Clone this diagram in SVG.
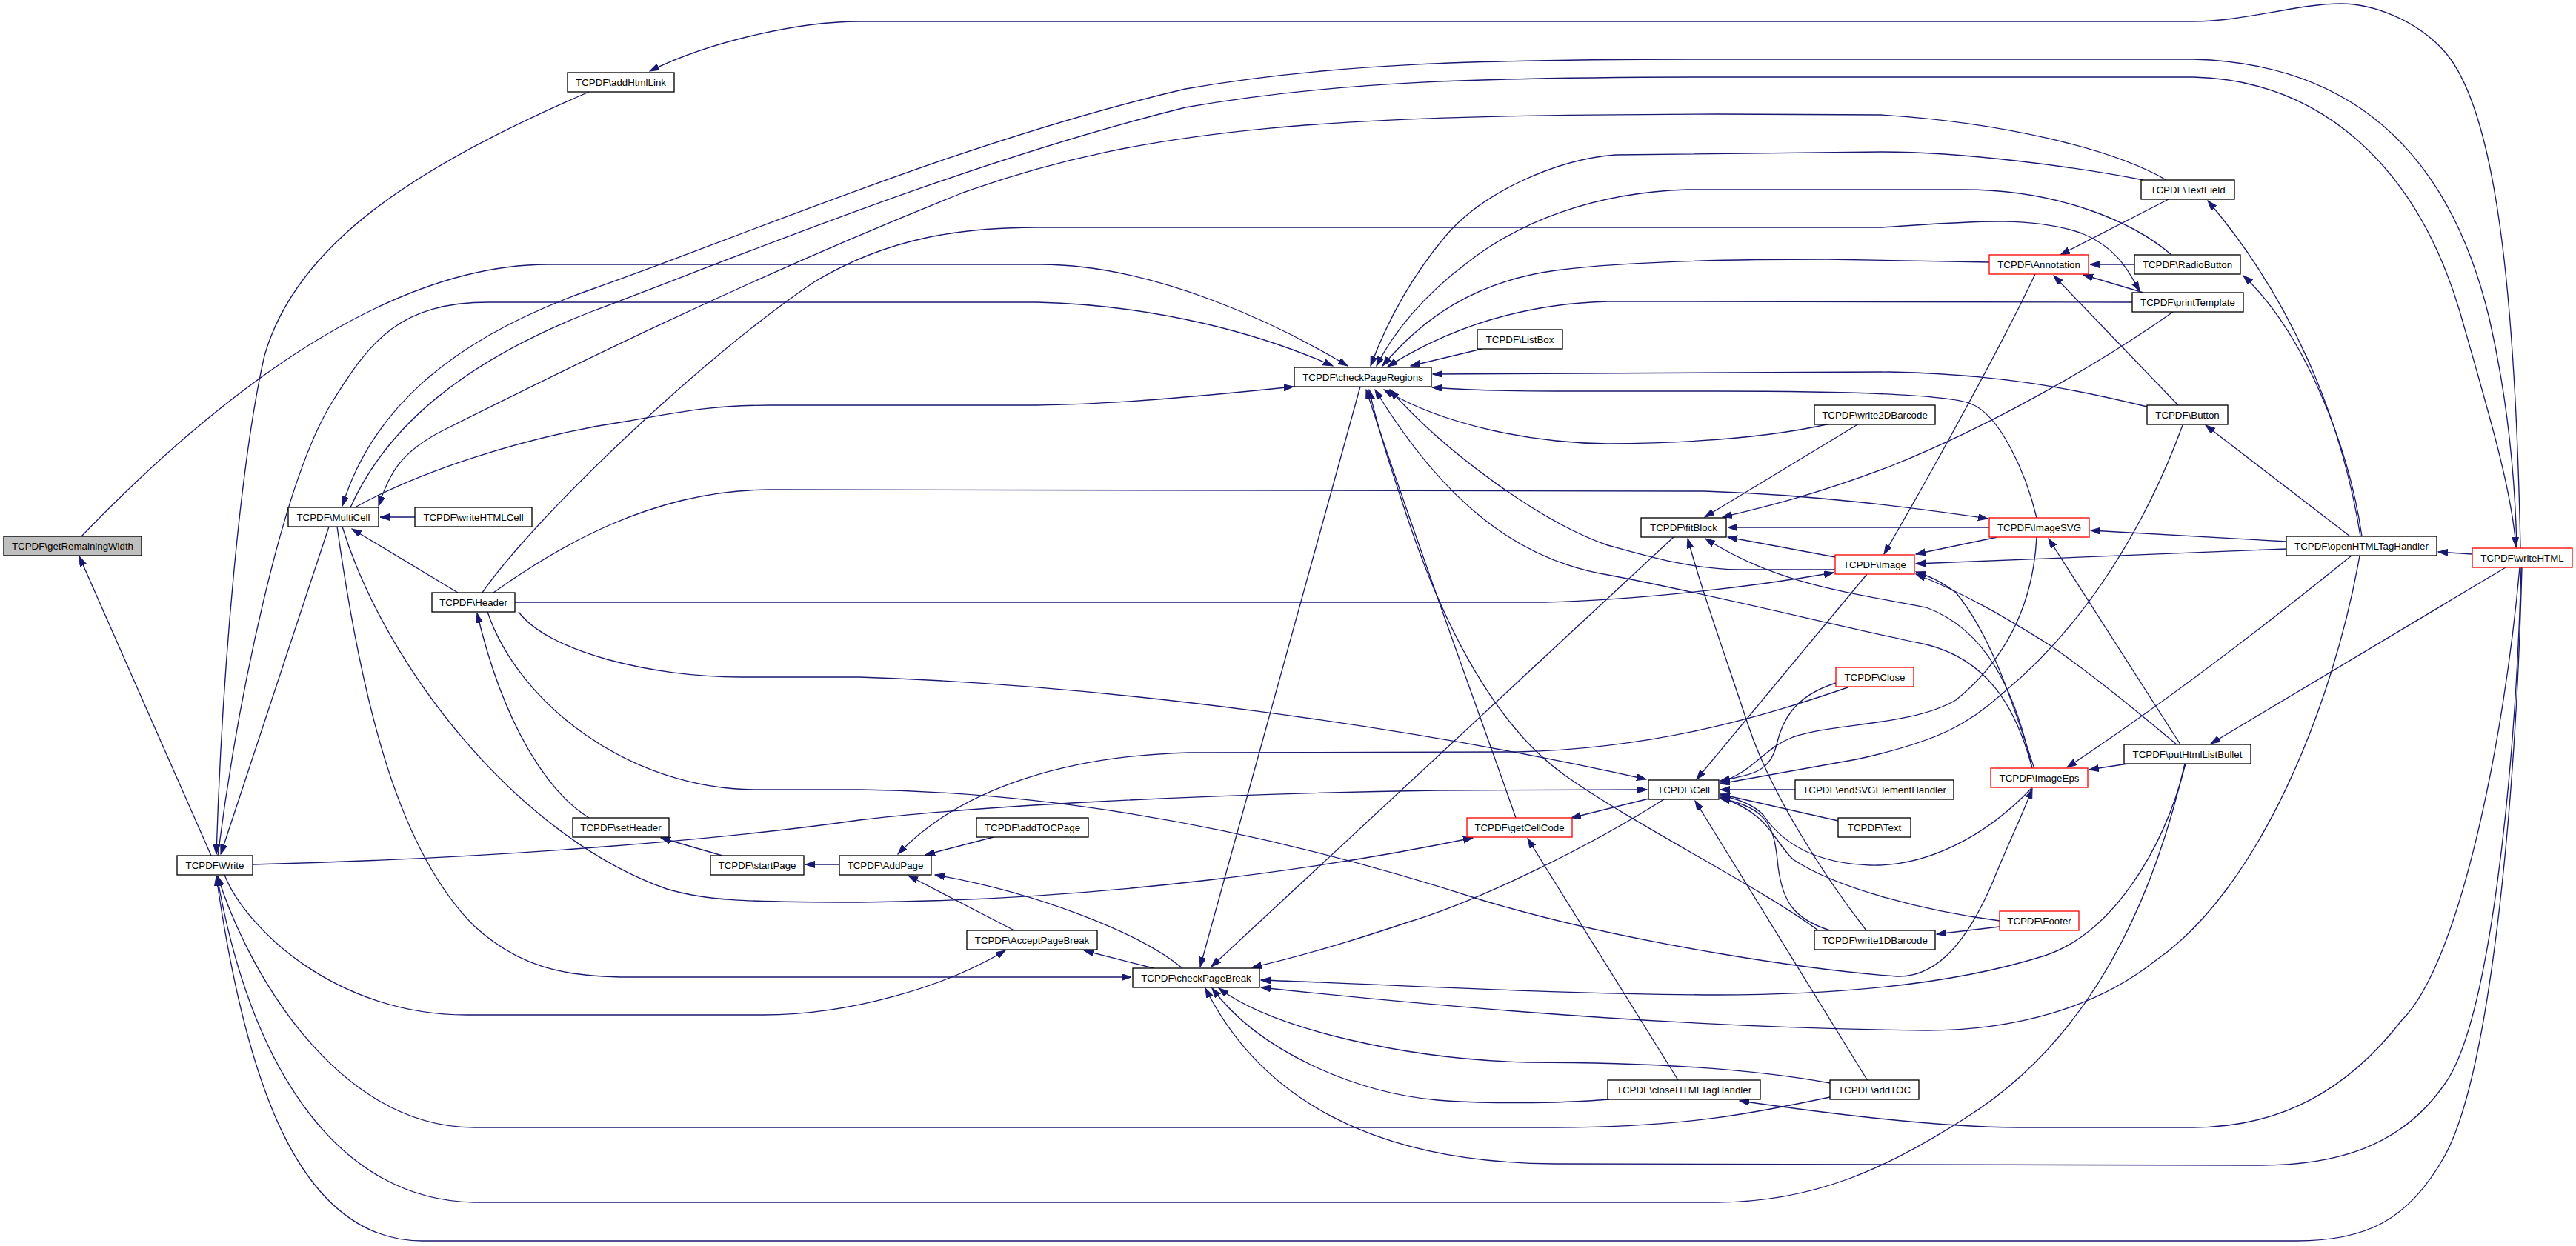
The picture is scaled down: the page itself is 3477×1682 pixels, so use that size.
<svg xmlns="http://www.w3.org/2000/svg" width="3477" height="1682" viewBox="0 0 3477 1682">
<defs>
<marker id="a" markerUnits="userSpaceOnUse" markerWidth="14" markerHeight="10" refX="13" refY="4.5" orient="auto">
<path d="M0,0 L13,4.5 L0,9 Z" fill="#191970" stroke="#191970" stroke-width="1"/>
</marker>
<style>
.e path{fill:none;stroke:#191970;stroke-width:1.33;marker-end:url(#a)}
.n rect{fill:#fff;stroke:#000;stroke-width:1.33}
.r rect{stroke:#f00}
.g rect{fill:#bfbfbf}
text{font-family:"Liberation Sans",Arial,sans-serif;font-size:13.3px;text-anchor:middle;fill:#000}
</style>
</defs>
<rect width="3477" height="1682" fill="#fff"/>
<g id="edges" class="e">
<path d="M285,1155 L107,751"/>
<path d="M110,724 C220,610 480,357 740,357 L1404,357 C1560,357 1730,440 1819,494"/>
<path d="M294,1155 C320,950 380,650 450,540 C500,460 540,408 660,408 L1400,408 C1560,412 1700,450 1799,494"/>
<path d="M795,124 C560,225 400,330 357,480 C325,620 300,900 292,1153"/>
<path d="M444,711 L298,1153"/>
<path d="M560,698 L513,698"/>
<path d="M618,800 L475,714"/>
<path d="M479,685 C560,640 700,590 850,568 C920,556 960,547 1040,547 L1400,547 C1500,546 1620,535 1746,522"/>
<path d="M455,711 C490,960 540,1150 640,1250 C700,1305 760,1319 850,1319 L1527,1319"/>
<path d="M462,711 C520,900 700,1130 900,1200 C950,1215 1000,1218 1160,1218 C1500,1215 1800,1170 1988,1131"/>
<path d="M658,826 C700,950 850,1066 1021,1066 L1160,1066 C1500,1070 1800,1150 2000,1215 C2200,1275 2450,1310 2560,1318 C2620,1320 2660,1260 2690,1190 C2710,1140 2730,1100 2743,1065"/>
<path d="M700,826 C740,880 880,914 1000,914 L1160,914 C1500,925 1900,980 2222,1052"/>
<path d="M695,813 L2085,813 C2200,810 2350,795 2475,773"/>
<path d="M666,800 C750,740 880,661 1040,661 L2300,663 C2450,668 2580,685 2683,700"/>
<path d="M651,800 C720,700 950,480 1100,380 C1200,320 1300,307 1400,307 L2540,307 C2650,300 2740,290 2810,315 C2860,335 2875,370 2888,393"/>
<path d="M795,1104 C740,1070 680,980 644,828"/>
<path d="M975,1155 L892,1131"/>
<path d="M1133,1167 L1087,1167"/>
<path d="M1341,1130 L1249,1154"/>
<path d="M2494,928 C2400,960 2250,1010 2048,1015 L1604,1016 C1450,1020 1300,1060 1212,1153"/>
<path d="M1369,1256 L1226,1182"/>
<path d="M1596,1307 C1540,1260 1400,1205 1262,1181"/>
<path d="M1557,1307 L1463,1283"/>
<path d="M303,1181 C330,1250 450,1370 630,1370 L1030,1370 C1150,1370 1280,1330 1357,1283"/>
<path d="M341,1167 C700,1158 1000,1130 1160,1107 C1300,1090 1600,1072 1940,1067 L2223,1066"/>
<path d="M2470,1481 C2380,1500 2280,1522 2100,1522 L640,1522 C450,1522 330,1300 294,1183"/>
<path d="M2949,1031 C2910,1200 2830,1400 2650,1511 C2550,1575 2450,1623 2317,1623 L640,1623 C460,1620 340,1450 293,1183"/>
<path d="M3404,766 C3395,1100 3360,1450 3300,1560 C3250,1650 3190,1675 3100,1675 L570,1675 C400,1675 330,1450 292,1183"/>
<path d="M3403,766 C3395,1050 3360,1380 3300,1463 C3240,1550 3150,1573 3050,1573 L2100,1571 C1850,1570 1700,1480 1627,1334"/>
<path d="M3401,766 C3380,1000 3320,1300 3242,1377 C3170,1470 3080,1522 2960,1522 L2724,1522 C2620,1522 2480,1505 2348,1486"/>
<path d="M3185,750 C3150,950 3050,1200 2909,1297 C2830,1360 2720,1391 2600,1391 C2300,1388 2000,1365 1702,1333"/>
<path d="M2950,1031 C2920,1150 2850,1260 2760,1290 C2650,1325 2500,1343 2317,1343 C2100,1342 1900,1330 1702,1323"/>
<path d="M1836,522 L1620,1305"/>
<path d="M2259,725 L1635,1305"/>
<path d="M2246,1079 C2150,1140 2000,1215 1900,1245 C1820,1272 1760,1290 1690,1306"/>
<path d="M2172,1484 C2100,1490 2000,1490 1940,1485 C1830,1475 1700,1420 1636,1334"/>
<path d="M2470,1462 C2350,1440 2200,1434 2062,1434 C1900,1430 1720,1390 1645,1334"/>
<path d="M2893,243 C2800,225 2650,205 2540,205 L2181,209 C2100,215 2000,260 1950,320 C1900,380 1870,440 1850,494"/>
<path d="M2931,344 C2880,300 2780,256 2650,256 L2277,256 C2150,260 2050,300 1980,355 C1920,400 1880,450 1858,494"/>
<path d="M2685,354 L2465,350 C2350,350 2200,352 2100,365 C1990,380 1920,430 1866,494"/>
<path d="M2878,408 L2170,407 C2060,410 1960,440 1873,495"/>
<path d="M2000,471 L1904,494"/>
<path d="M2898,549 C2800,525 2700,505 2550,502 L1934,505"/>
<path d="M2749,699 C2735,640 2700,560 2660,545 C2630,533 2500,528 2317,528 L2100,528 C2020,528 1960,525 1933,523"/>
<path d="M2470,572 C2400,588 2300,598 2170,599 C2070,598 1950,575 1868,526"/>
<path d="M2477,769 L2348,769 C2280,768 2220,750 2170,736 C2080,705 1950,610 1876,526"/>
<path d="M2743,1037 C2720,950 2680,890 2600,870 C2500,850 2300,800 2170,776 C2050,756 1950,680 1856,526"/>
<path d="M2046,1104 C2010,1000 1900,700 1844,526"/>
<path d="M2454,1256 C2380,1200 2200,1110 2110,1045 C2020,980 1950,850 1900,700 C1880,640 1860,580 1848,526"/>
<path d="M2478,922 C2420,940 2405,975 2398,1005 C2390,1040 2370,1045 2322,1054"/>
<path d="M2749,725 C2745,800 2720,880 2640,945 C2580,980 2480,975 2420,995 C2380,1010 2370,1040 2322,1056"/>
<path d="M2946,574 C2900,700 2820,840 2703,936 C2660,975 2620,1000 2506,1025 L2322,1058"/>
<path d="M2423,1066 L2322,1066"/>
<path d="M2481,1108 L2322,1072"/>
<path d="M2743,1063 C2680,1130 2600,1170 2524,1168 C2440,1165 2400,1130 2380,1100 C2365,1085 2345,1078 2322,1074"/>
<path d="M2699,1243 C2600,1230 2480,1200 2420,1160 C2390,1130 2390,1100 2322,1076"/>
<path d="M2470,1256 C2420,1240 2406,1216 2400,1170 C2395,1120 2390,1090 2322,1078"/>
<path d="M2521,1459 L2288,1081"/>
<path d="M2520,775 L2290,1052"/>
<path d="M2226,1078 L2121,1104"/>
<path d="M2265,1458 L2062,1132"/>
<path d="M2509,572 L2301,698"/>
<path d="M2933,421 C2850,480 2700,570 2550,630 C2450,668 2380,685 2325,698"/>
<path d="M2685,712 L2332,712"/>
<path d="M2477,752 L2332,725"/>
<path d="M2743,1038 C2720,930 2680,850 2600,820 C2500,800 2400,790 2302,727"/>
<path d="M2519,1256 C2460,1180 2390,1070 2360,980 C2320,860 2295,790 2278,727"/>
<path d="M2747,370 C2700,470 2600,650 2543,748"/>
<path d="M2696,725 L2586,748"/>
<path d="M3086,741 L2586,761"/>
<path d="M2746,1038 C2720,960 2690,860 2640,800 C2620,785 2605,778 2586,772"/>
<path d="M2938,1005 C2890,965 2830,915 2770,873 C2710,835 2650,800 2586,775"/>
<path d="M2881,357 L2821,357"/>
<path d="M2927,269 L2781,344"/>
<path d="M2940,547 L2772,372"/>
<path d="M2893,395 L2812,371"/>
<path d="M3086,731 L2822,716"/>
<path d="M2943,1005 L2765,727"/>
<path d="M3174,750 C3100,810 2950,930 2790,1036"/>
<path d="M2872,1031 L2820,1039"/>
<path d="M2699,1251 L2614,1261"/>
<path d="M3186,724 C3160,560 3090,400 2980,271"/>
<path d="M3188,724 C3170,600 3110,450 3028,372"/>
<path d="M3172,724 L2977,574"/>
<path d="M3337,748 L3291,745"/>
<path d="M3382,766 L2984,1004"/>
<path d="M3402,740 C3395,400 3370,150 3300,70 C3260,25 3200,5 3160,5 C3100,5 3030,29 2960,29 L1160,29 C1080,29 960,55 877,96"/>
<path d="M3397,740 C3395,650 3385,540 3360,430 C3300,180 3150,85 2960,80 L2320,80 C2000,80 1800,85 1600,120 C1300,190 1000,320 800,390 C600,460 500,560 462,683"/>
<path d="M473,685 C520,580 620,490 800,420 C1000,345 1300,220 1600,145 C1800,110 2000,104 2320,104 L2960,104 C3130,108 3260,220 3320,420 C3360,560 3390,660 3396,738"/>
<path d="M2924,243 C2850,200 2700,165 2539,155 L2320,154 C1800,155 1550,170 1300,260 C1000,380 750,505 600,580 C540,610 525,640 511,683"/>
</g>
<g id="n_getRemainingWidth" class="n g"><rect x="5" y="724" width="186" height="26"/><text x="98" y="741.5">TCPDF\getRemainingWidth</text></g>
<g id="n_addHtmlLink" class="n"><rect x="766" y="98" width="144" height="26"/><text x="838" y="115.5">TCPDF\addHtmlLink</text></g>
<g id="n_MultiCell" class="n"><rect x="389" y="685" width="122" height="26"/><text x="450" y="702.5">TCPDF\MultiCell</text></g>
<g id="n_writeHTMLCell" class="n"><rect x="560" y="685" width="158" height="26"/><text x="639" y="702.5">TCPDF\writeHTMLCell</text></g>
<g id="n_Header" class="n"><rect x="583" y="800" width="112" height="26"/><text x="639" y="817.5">TCPDF\Header</text></g>
<g id="n_Write" class="n"><rect x="239" y="1155" width="102" height="26"/><text x="290" y="1172.5">TCPDF\Write</text></g>
<g id="n_setHeader" class="n"><rect x="773" y="1104" width="130" height="26"/><text x="838" y="1121.5">TCPDF\setHeader</text></g>
<g id="n_startPage" class="n"><rect x="959" y="1155" width="126" height="26"/><text x="1022" y="1172.5">TCPDF\startPage</text></g>
<g id="n_AddPage" class="n"><rect x="1133" y="1155" width="124" height="26"/><text x="1195" y="1172.5">TCPDF\AddPage</text></g>
<g id="n_addTOCPage" class="n"><rect x="1318" y="1104" width="151" height="26"/><text x="1393.5" y="1121.5">TCPDF\addTOCPage</text></g>
<g id="n_AcceptPageBreak" class="n"><rect x="1305" y="1256" width="176" height="26"/><text x="1393" y="1273.5">TCPDF\AcceptPageBreak</text></g>
<g id="n_checkPageBreak" class="n"><rect x="1529" y="1307" width="171" height="26"/><text x="1614.5" y="1324.5">TCPDF\checkPageBreak</text></g>
<g id="n_checkPageRegions" class="n"><rect x="1747" y="496" width="185" height="26"/><text x="1839.5" y="513.5">TCPDF\checkPageRegions</text></g>
<g id="n_ListBox" class="n"><rect x="1994" y="445" width="115" height="26"/><text x="2051.5" y="462.5">TCPDF\ListBox</text></g>
<g id="n_getCellCode" class="n r"><rect x="1980" y="1104" width="142" height="26"/><text x="2051" y="1121.5">TCPDF\getCellCode</text></g>
<g id="n_closeHTMLTagHandler" class="n"><rect x="2170" y="1458" width="206" height="26"/><text x="2273" y="1475.5">TCPDF\closeHTMLTagHandler</text></g>
<g id="n_Cell" class="n"><rect x="2225" y="1053" width="95" height="26"/><text x="2272.5" y="1070.5">TCPDF\Cell</text></g>
<g id="n_fitBlock" class="n"><rect x="2215" y="699" width="115" height="26"/><text x="2272.5" y="716.5">TCPDF\fitBlock</text></g>
<g id="n_write2DBarcode" class="n"><rect x="2449" y="547" width="163" height="26"/><text x="2530.5" y="564.5">TCPDF\write2DBarcode</text></g>
<g id="n_Image" class="n r"><rect x="2477" y="749" width="107" height="26"/><text x="2530.5" y="766.5">TCPDF\Image</text></g>
<g id="n_Close" class="n r"><rect x="2478" y="901" width="105" height="26"/><text x="2530.5" y="918.5">TCPDF\Close</text></g>
<g id="n_endSVGElementHandler" class="n"><rect x="2423" y="1053" width="214" height="26"/><text x="2530" y="1070.5">TCPDF\endSVGElementHandler</text></g>
<g id="n_Text" class="n"><rect x="2481" y="1104" width="98" height="26"/><text x="2530" y="1121.5">TCPDF\Text</text></g>
<g id="n_write1DBarcode" class="n"><rect x="2449" y="1256" width="163" height="26"/><text x="2530.5" y="1273.5">TCPDF\write1DBarcode</text></g>
<g id="n_addTOC" class="n"><rect x="2470" y="1458" width="120" height="26"/><text x="2530" y="1475.5">TCPDF\addTOC</text></g>
<g id="n_Annotation" class="n r"><rect x="2685" y="344" width="134" height="26"/><text x="2752" y="361.5">TCPDF\Annotation</text></g>
<g id="n_ImageSVG" class="n r"><rect x="2685" y="699" width="135" height="26"/><text x="2752.5" y="716.5">TCPDF\ImageSVG</text></g>
<g id="n_ImageEps" class="n r"><rect x="2687" y="1037" width="131" height="26"/><text x="2752.5" y="1054.5">TCPDF\ImageEps</text></g>
<g id="n_Footer" class="n r"><rect x="2699" y="1230" width="107" height="26"/><text x="2752.5" y="1247.5">TCPDF\Footer</text></g>
<g id="n_TextField" class="n"><rect x="2890" y="243" width="126" height="26"/><text x="2953" y="260.5">TCPDF\TextField</text></g>
<g id="n_RadioButton" class="n"><rect x="2881" y="344" width="143" height="26"/><text x="2952.5" y="361.5">TCPDF\RadioButton</text></g>
<g id="n_printTemplate" class="n"><rect x="2878" y="395" width="150" height="26"/><text x="2953" y="412.5">TCPDF\printTemplate</text></g>
<g id="n_Button" class="n"><rect x="2898" y="547" width="109" height="26"/><text x="2952.5" y="564.5">TCPDF\Button</text></g>
<g id="n_putHtmlListBullet" class="n"><rect x="2867" y="1005" width="171" height="26"/><text x="2952.5" y="1022.5">TCPDF\putHtmlListBullet</text></g>
<g id="n_openHTMLTagHandler" class="n"><rect x="3086" y="724" width="203" height="26"/><text x="3187.5" y="741.5">TCPDF\openHTMLTagHandler</text></g>
<g id="n_writeHTML" class="n r"><rect x="3337" y="740" width="135" height="26"/><text x="3404.5" y="757.5">TCPDF\writeHTML</text></g>
</svg>
